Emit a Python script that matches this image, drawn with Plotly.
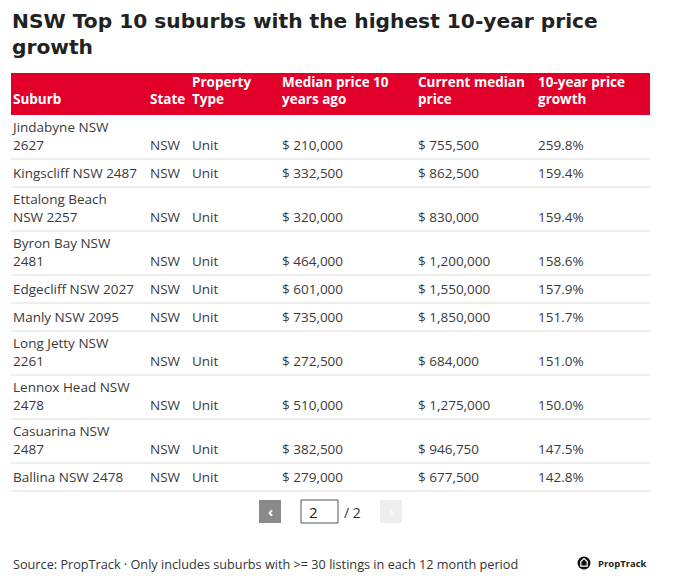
import plotly.graph_objects as go

# ---------------- data ----------------
suburbs = ["Jindabyne NSW<br>2627", "Kingscliff NSW 2487", "Ettalong Beach<br>NSW 2257",
           "Byron Bay NSW<br>2481", "Edgecliff NSW 2027", "Manly NSW 2095",
           "Long Jetty NSW<br>2261", "Lennox Head NSW<br>2478", "Casuarina NSW<br>2487",
           "Ballina NSW 2478"]
states = ["NSW"] * 10
property_types = ["Unit"] * 10
price_10y_ago = [210000, 332500, 320000, 464000, 601000, 735000, 272500, 510000, 382500, 279000]
current_price = [755500, 862500, 830000, 1200000, 1550000, 1850000, 684000, 1275000, 946750, 677500]
growth_pct = [259.8, 159.4, 159.4, 158.6, 157.9, 151.7, 151.0, 150.0, 147.5, 142.8]
headers = ["Suburb", "State", "Property<br>Type", "Median price 10<br>years ago",
           "Current median<br>price", "10-year price<br>growth"]

title = "NSW Top 10 suburbs with the highest 10-year price<br>growth"
source = "Source: PropTrack · Only includes suburbs with >= 30 listings in each 12 month period"

# ---------------- layout constants ----------------
W, H = 679, 585
OFF = 8  # page body margin
FONT = "Open Sans"
TXT = "#3a3a3a"
RED = "#e2002b"
TABLE_L, TABLE_R = 11, 650
col_x = [13, 150, 192, 282, 418, 538]
HEADER_TOP, HEADER_BOTTOM = 73, 115
ROW_1LINE, EXTRA_LINE = 28, 16
BASE_PAD = 6.0  # anchor offset from row bottom (bottom-aligned text)
FS = 13.5

columns = [
    suburbs,
    states,
    property_types,
    [f"$ {v:,}" for v in price_10y_ago],
    [f"$ {v:,}" for v in current_price],
    [f"{g:.1f}%" for g in growth_pct],
]

# row geometry from the number of lines in each row
row_bottoms = []
y = HEADER_BOTTOM
for s in suburbs:
    lines = s.count("<br>") + 1
    y += ROW_1LINE + EXTRA_LINE * (lines - 1)
    row_bottoms.append(y)

fig = go.Figure()

shapes = []
# header band
shapes.append(dict(type="rect", xref="x", yref="y", x0=TABLE_L, x1=TABLE_R,
                   y0=HEADER_TOP, y1=HEADER_BOTTOM, fillcolor=RED, line_width=0, layer="below"))
# row separators
for yb in row_bottoms:
    shapes.append(dict(type="line", xref="x", yref="y", x0=TABLE_L, x1=TABLE_R,
                       y0=yb, y1=yb, line=dict(color="#dcdcdc", width=1), layer="below"))

# header text
fig.add_trace(go.Scatter(
    x=col_x, y=[HEADER_BOTTOM - 7.5] * len(headers), text=headers, mode="text",
    textposition="top right", hoverinfo="skip", showlegend=False,
    textfont=dict(family=FONT, size=13.5, color="white", weight="bold")))

# cell text
for cx, col in zip(col_x, columns):
    fig.add_trace(go.Scatter(
        x=[cx] * len(col), y=[yb - BASE_PAD for yb in row_bottoms], text=col, mode="text",
        textposition="top right", hoverinfo="skip", showlegend=False,
        textfont=dict(family=FONT, size=FS, color=TXT)))

annotations = [
    dict(text=title, x=10, y=OFF + 1, yshift=2, xref="x", yref="y", xanchor="left", yanchor="top",
         showarrow=False, align="left",
         font=dict(family="DejaVu Sans", size=20.2, color="#222222", weight="bold")),
    dict(text=source, x=11, y=564, xref="x", yref="y", xanchor="left", yanchor="middle",
         showarrow=False, font=dict(family=FONT, size=12.7, color="#333333")),
    dict(text="PropTrack", x=596, y=563, xref="x", yref="y", xanchor="left", yanchor="middle",
         showarrow=False, font=dict(family=FONT, size=9.5, color="#222222", weight="bold")),
    # pagination
    dict(text="‹", x=270, y=511, xref="x", yref="y", showarrow=False,
         font=dict(family=FONT, size=14, color="white", weight="bold")),
    dict(text="2", x=307, y=512, xref="x", yref="y", xanchor="left", showarrow=False,
         font=dict(family=FONT, size=15, color="#222222")),
    dict(text="/ 2", x=342, y=512, xref="x", yref="y", xanchor="left", showarrow=False,
         font=dict(family=FONT, size=14, color="#333333")),
    dict(text="›", x=391, y=511, xref="x", yref="y", showarrow=False,
         font=dict(family=FONT, size=14, color="#f8f8f8", weight="bold")),
]

# pagination widgets
shapes += [
    dict(type="rect", xref="x", yref="y", x0=259, x1=281, y0=500, y1=523,
         fillcolor="#8a8a8a", line_width=0),
    dict(type="rect", xref="x", yref="y", x0=301, x1=338, y0=500, y1=523,
         fillcolor="white", line=dict(color="#555555", width=1)),
    dict(type="rect", xref="x", yref="y", x0=380, x1=402, y0=500, y1=523,
         fillcolor="#eeeeee", line_width=0),
    # logo
    dict(type="circle", xref="x", yref="y", x0=577.5, x1=590.5, y0=556.5, y1=569.5,
         fillcolor="#111111", line_width=0),
    dict(type="path", xref="x", yref="y",
         path="M580.8,566.2 L580.8,561.5 L584,558.6 L587.2,561.5 L587.2,566.2 Z",
         line=dict(color="white", width=1.2), fillcolor="rgba(0,0,0,0)"),
]

fig.update_layout(
    width=W - OFF, height=H - OFF, margin=dict(l=0, r=0, t=0, b=0),
    paper_bgcolor="white", plot_bgcolor="white",
    xaxis=dict(range=[OFF, W], visible=False, fixedrange=True),
    yaxis=dict(range=[H, OFF], visible=False, fixedrange=True),
    shapes=shapes, annotations=annotations,
)

fig.write_html("out.html")
